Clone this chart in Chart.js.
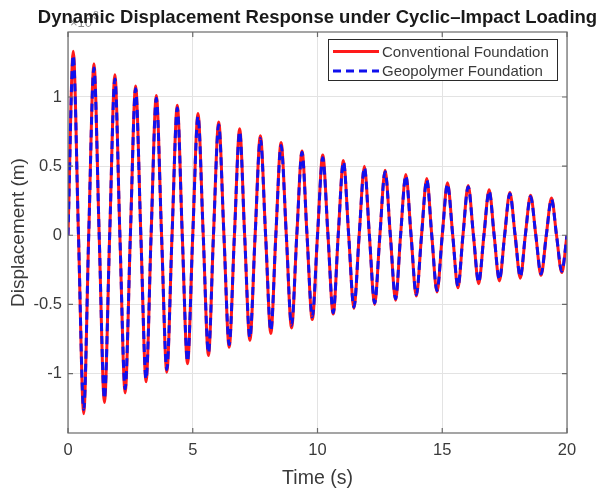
<!DOCTYPE html>
<html lang="en">
<head>
<meta charset="UTF-8">
<title>Dynamic Displacement Response under Cyclic-Impact Loading</title>
<script src="https://cdn.jsdelivr.net/npm/chart.js"></script>
<style>
    body { margin: 0; background: #fff; }
    #wrap { width: 599px; height: 491px; }
</style>
</head>
<body>
<div id="wrap"><canvas id="dispChart" width="599" height="491"></canvas></div>
<script>
    // time samples (s): start, then peak / zero / trough / zero for each cycle
    var timeS = [0, 0.21, 0.42, 0.63, 0.83, 1.04, 1.25, 1.46, 1.67, 1.88, 2.08, 2.29, 2.50, 2.71, 2.92, 3.13,
        3.33, 3.54, 3.75, 3.96, 4.17, 4.38, 4.58, 4.79, 5.00, 5.21, 5.42, 5.63, 5.83, 6.04, 6.25, 6.46,
        6.67, 6.88, 7.08, 7.29, 7.50, 7.71, 7.92, 8.13, 8.33, 8.54, 8.75, 8.96, 9.17, 9.38, 9.58, 9.79,
        10.00, 10.21, 10.42, 10.63, 10.83, 11.04, 11.25, 11.46, 11.67, 11.88, 12.08, 12.29, 12.50, 12.71, 12.92, 13.13,
        13.33, 13.54, 13.75, 13.96, 14.17, 14.38, 14.58, 14.79, 15.00, 15.21, 15.42, 15.63, 15.83, 16.04, 16.25, 16.46,
        16.67, 16.88, 17.08, 17.29, 17.50, 17.71, 17.92, 18.13, 18.33, 18.54, 18.75, 18.96, 19.17, 19.38, 19.58, 19.79, 20.00];

    // peak / trough displacement of each cycle
    var conventionalPeaks = [1.33, 1.24, 1.16, 1.08, 1.01, 0.94, 0.88, 0.82, 0.77, 0.72, 0.67, 0.61,
        0.58, 0.54, 0.50, 0.47, 0.44, 0.41, 0.38, 0.36, 0.33, 0.31, 0.29, 0.27];
    var conventionalTroughs = [-1.29, -1.21, -1.14, -1.06, -0.99, -0.93, -0.87, -0.81, -0.76, -0.71, -0.67, -0.61,
        -0.57, -0.53, -0.50, -0.47, -0.44, -0.41, -0.38, -0.35, -0.33, -0.31, -0.29, -0.27];
    var geopolymerPeaks = [1.30, 1.21, 1.13, 1.06, 0.99, 0.92, 0.86, 0.80, 0.75, 0.70, 0.65, 0.60,
        0.56, 0.53, 0.49, 0.46, 0.43, 0.40, 0.37, 0.35, 0.32, 0.30, 0.28, 0.26];
    var geopolymerTroughs = [-1.26, -1.18, -1.11, -1.04, -0.97, -0.91, -0.85, -0.79, -0.74, -0.69, -0.65, -0.59,
        -0.56, -0.52, -0.49, -0.46, -0.43, -0.40, -0.37, -0.34, -0.32, -0.30, -0.28, -0.26];

    var xTicks = [0, 5, 10, 15, 20];
    var yTicks = [-1, -0.5, 0, 0.5, 1];
    var seriesNames = ['Conventional Foundation', 'Geopolymer Foundation'];
    var chartTitle = 'Dynamic Displacement Response under Cyclic\u2013Impact Loading';

    var FONT = '"Liberation Sans", Arial, sans-serif';
    var AXIS_COLOR = '#6a6a6a';
    var TEXT_COLOR = '#3a3a3a';

    // zero crossings between the read peaks and troughs
    function buildSeries(peaks, troughs) {
        var pts = [];
        for (var i = 0; i < timeS.length; i++) {
            var k = Math.floor(i / 4);
            var y = 0;
            if (i % 4 === 1) y = peaks[k];
            if (i % 4 === 3) y = troughs[k];
            pts.push({ x: timeS[i], y: y });
        }
        return pts;
    }

    var boxPlugin = {
        id: 'matlabBox',
        beforeDraw: function(chart) {
            var ctx = chart.ctx;
            var a = chart.chartArea;
            ctx.save();
            // axis exponent label, sits under the title like in the original
            ctx.fillStyle = '#8a8a8a';
            ctx.font = '13px ' + FONT;
            ctx.textBaseline = 'alphabetic';
            ctx.fillText('\u00d710', 70, 27);
            ctx.font = '10px ' + FONT;
            ctx.fillText('-3', 90, 19);
            // title, centred over the axes
            ctx.fillStyle = '#1a1a1a';
            ctx.font = 'bold 18.5px ' + FONT;
            ctx.textAlign = 'center';
            ctx.fillText(chartTitle, (a.left + a.right) / 2, 23);
            ctx.restore();
        },
        afterDraw: function(chart) {
            var ctx = chart.ctx;
            var a = chart.chartArea;
            var xs = chart.scales.x, ys = chart.scales.y;
            ctx.save();
            ctx.strokeStyle = AXIS_COLOR;
            ctx.lineWidth = 1.2;
            ctx.strokeRect(a.left, a.top, a.right - a.left, a.bottom - a.top);

            // inward tick marks
            ctx.beginPath();
            xTicks.forEach(function(v) {
                var px = xs.getPixelForValue(v);
                ctx.moveTo(px, a.bottom); ctx.lineTo(px, a.bottom - 5);
                ctx.moveTo(px, a.top); ctx.lineTo(px, a.top + 5);
            });
            yTicks.forEach(function(v) {
                var py = ys.getPixelForValue(v);
                ctx.moveTo(a.left, py); ctx.lineTo(a.left + 5, py);
                ctx.moveTo(a.right, py); ctx.lineTo(a.right - 5, py);
            });
            ctx.stroke();

            // legend box
            var lx = 328.5, ly = 39.5, lw = 229, lh = 41;
            ctx.fillStyle = '#ffffff';
            ctx.fillRect(lx, ly, lw, lh);
            ctx.strokeStyle = '#2a2a2a';
            ctx.lineWidth = 1;
            ctx.strokeRect(lx, ly, lw, lh);

            var rows = [51.5, 71];
            chart.data.datasets.forEach(function(ds, i) {
                ctx.beginPath();
                ctx.strokeStyle = ds.borderColor;
                ctx.lineWidth = ds.borderWidth;
                ctx.setLineDash(ds.borderDash || []);
                ctx.moveTo(333, rows[i]);
                ctx.lineTo(379, rows[i]);
                ctx.stroke();
                ctx.setLineDash([]);
                ctx.fillStyle = TEXT_COLOR;
                ctx.font = '15px ' + FONT;
                ctx.textBaseline = 'middle';
                ctx.fillText(ds.label, 382, rows[i] + 1);
            });
            ctx.restore();
        }
    };

    var ctx = document.getElementById('dispChart').getContext('2d');
    new Chart(ctx, {
        type: 'line',
        data: {
            datasets: [{
                label: seriesNames[0],
                data: buildSeries(conventionalPeaks, conventionalTroughs),
                borderColor: '#ff1a1a',
                borderWidth: 3,
                pointRadius: 0,
                cubicInterpolationMode: 'monotone',
                fill: false,
                order: 1
            }, {
                label: seriesNames[1],
                data: buildSeries(geopolymerPeaks, geopolymerTroughs),
                borderColor: '#1010ee',
                borderWidth: 3,
                borderDash: [8, 5],
                pointRadius: 0,
                cubicInterpolationMode: 'monotone',
                fill: false,
                order: 0
            }]
        },
        options: {
            responsive: false,
            animation: false,
            layout: { padding: { left: 0, right: 32, top: 32, bottom: 0 } },
            plugins: {
                legend: { display: false },
                tooltip: { enabled: false },
                title: { display: false }
            },
            scales: {
                x: {
                    type: 'linear',
                    min: 0,
                    max: 20,
                    afterBuildTicks: function(scale) {
                        scale.ticks = xTicks.map(function(v) { return { value: v }; });
                    },
                    afterFit: function(scale) { scale.height = 58; },
                    grid: { color: '#e3e3e3', lineWidth: 1, drawTicks: false },
                    border: { display: false },
                    ticks: {
                        color: TEXT_COLOR, padding: 8, maxRotation: 0, font: { family: FONT, size: 16.5 },
                        callback: function(v) { return String(v); }
                    },
                    title: {
                        display: true,
                        text: 'Time (s)',
                        color: TEXT_COLOR,
                        font: { family: FONT, size: 19.5, lineHeight: 1.2 },
                        padding: { top: 0, bottom: 1 }
                    }
                },
                y: {
                    type: 'linear',
                    min: -1.43,
                    max: 1.47,
                    afterBuildTicks: function(scale) {
                        scale.ticks = yTicks.map(function(v) { return { value: v }; });
                    },
                    afterFit: function(scale) { scale.width = 68; },
                    grid: { color: '#e3e3e3', lineWidth: 1, drawTicks: false },
                    border: { display: false },
                    ticks: {
                        color: TEXT_COLOR, padding: 6, font: { family: FONT, size: 16.5 },
                        callback: function(v) { return String(v); }
                    },
                    title: {
                        display: true,
                        text: 'Displacement (m)',
                        color: TEXT_COLOR,
                        font: { family: FONT, size: 19, lineHeight: 1.2 },
                        padding: { top: 7, bottom: 0 }
                    }
                }
            }
        },
        plugins: [boxPlugin]
    });
</script>
</body>
</html>
